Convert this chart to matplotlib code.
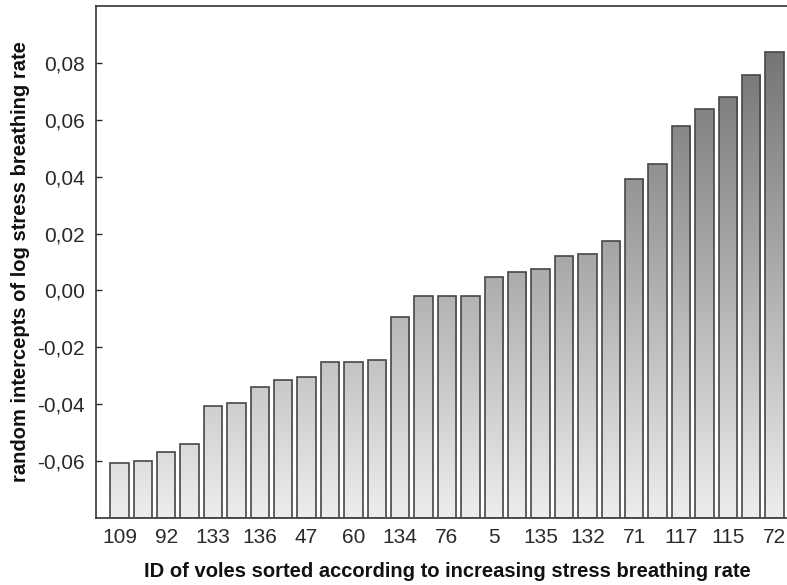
import numpy as np
import matplotlib.pyplot as plt
from matplotlib.colors import LinearSegmentedColormap

plt.rcParams['font.family'] = ['Liberation Sans', 'DejaVu Sans']

# random intercepts, sorted (29 voles, every other ID labelled)
values = [-0.0606, -0.0601, -0.0569, -0.0541, -0.0405, -0.0397, -0.0340, -0.0315,
          -0.0305, -0.0250, -0.0250, -0.0246, -0.0095, -0.0021, -0.0018, -0.0018,
          0.0047, 0.0064, 0.0074, 0.0120, 0.0128, 0.0174, 0.0392, 0.0443,
          0.0579, 0.0638, 0.0680, 0.0756, 0.0839]
tick_ids = ['109', '92', '133', '136', '47', '60', '134', '76', '5', '135',
            '132', '71', '117', '115', '72']

x = np.arange(1, len(values) + 1)
ymin, ymax = -0.08, 0.10

fig = plt.figure(figsize=(7.87, 5.85), dpi=100)
ax = fig.add_axes([96/787, 67/585, (798-96)/787, 512/585])

# gray gradient, light at the bottom, dark at the top
cmap = LinearSegmentedColormap.from_list('g', ['#ededed', '#a9a9a9', '#6a6a6a'])
grad = np.linspace(0, 1, 256).reshape(-1, 1)

bars = ax.bar(x, values, width=0.78, bottom=0, color='none',
              edgecolor='#474747', linewidth=1.2, zorder=3)
for b, v in zip(bars, values):
    # bars hang from the bottom of the axis
    b.set_y(ymin)
    b.set_height(v - ymin)
    im = ax.imshow(grad, cmap=cmap, origin='lower', aspect='auto',
                   extent=[0, 30, ymin, ymax], zorder=2)
    im.set_clip_path(b)

ax.set_xlim(0, 30)
ax.set_ylim(ymin, ymax)
ax.set_xticks(x[::2])
ax.set_xticklabels(tick_ids)
ax.set_yticks([-0.06, -0.04, -0.02, 0.0, 0.02, 0.04, 0.06, 0.08])
ax.set_yticklabels(['-0,06', '-0,04', '-0,02', '0,00', '0,02', '0,04', '0,06', '0,08'])
ax.tick_params(direction='in', length=4, width=1, labelsize=15, colors='#2a2a2a', pad=8)
ax.tick_params(axis='x', pad=7)
for s in ax.spines.values():
    s.set_color('#333333')
    s.set_linewidth(1.2)
ax.spines['right'].set_visible(False)

ax.set_xlabel('ID of voles sorted according to increasing stress breathing rate',
              fontsize=14.5, fontweight='bold', labelpad=11, color='#111111')
ax.set_ylabel('random intercepts of log stress breathing rate',
              fontsize=14.5, fontweight='bold', labelpad=5, color='#111111')

fig.savefig('out.png', dpi=100)
